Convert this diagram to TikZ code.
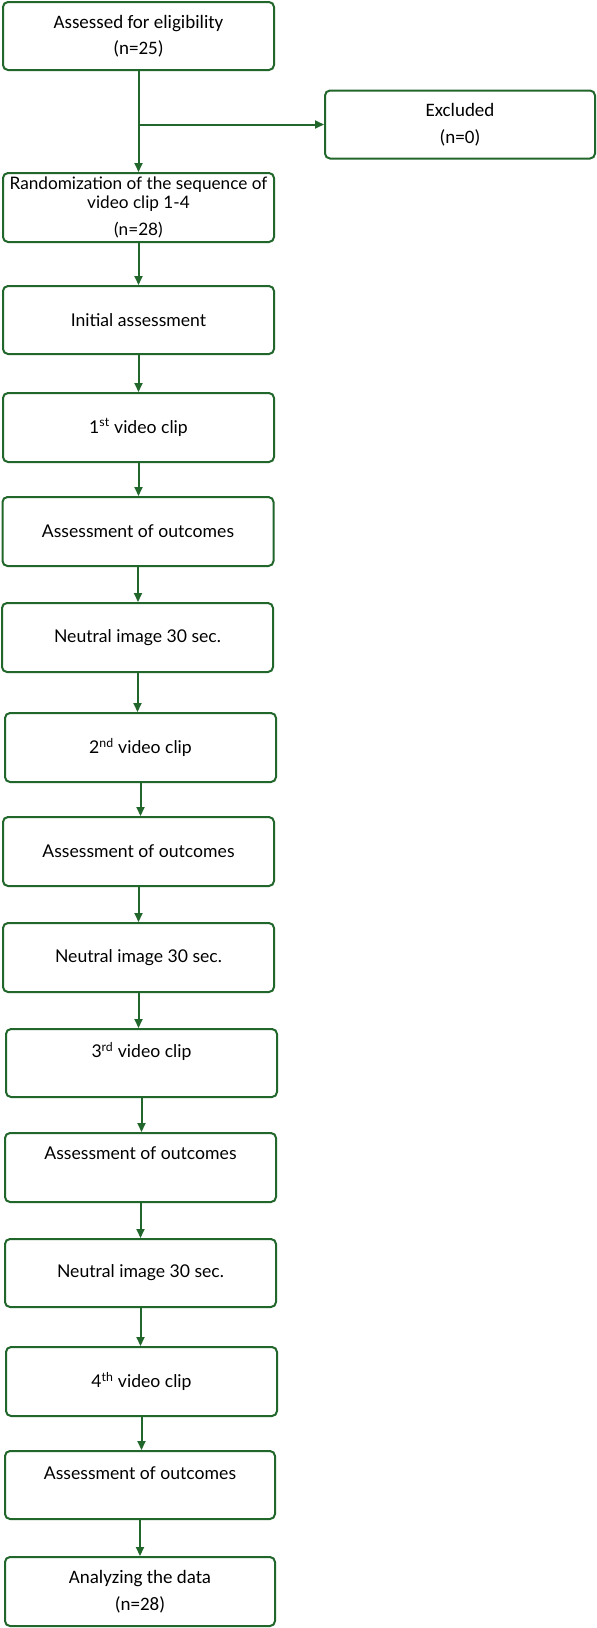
\documentclass[tikz,border=0pt]{standalone}
\usepackage{fontspec}
\setmainfont{Lato}
\newfontfamily\calibri{Carlito}
\usetikzlibrary{arrows.meta}
\definecolor{flowgreen}{RGB}{33,102,42}
\begin{document}
\begin{tikzpicture}[x=1pt,y=-1pt,
  box/.style={draw=flowgreen, line width=2pt, rounded corners=5pt,
    minimum width=271pt, minimum height=68pt, align=center, inner sep=0pt,
    font=\fontsize{17.6}{20}\selectfont},
  arr/.style={draw=flowgreen, line width=2pt, -{Triangle[length=9pt,width=8pt]}}]
\useasboundingbox (0,0) rectangle (597,1628);
\node[box, font=\calibri\fontsize{19}{26.5}\selectfont] (elig) at (138.5,36) {Assessed for eligibility\\(n=25)};
\node[box, font=\calibri\fontsize{19}{27}\selectfont, minimum width=270pt] (excl) at (460,124.5) {Excluded\\(n=0)};
\node[box, minimum height=69pt, font=\fontsize{17.2}{19}\selectfont] (rand) at (138.5,207.5)
  {Randomization of the sequence of\\video clip 1-4\\[8pt](n=28)};
\node[box] (init) at (138.5,320) {Initial assessment};
\node[box, minimum height=69pt] (clipone) at (138.5,427.5) {1\textsuperscript{st} video clip};
\node[box, minimum height=69pt] (outone) at (138,531.5) {Assessment of outcomes};
\node[box, minimum height=69pt] (neutone) at (137.5,637.5) {Neutral image 30 sec.};
\node[box, minimum height=69pt] (cliptwo) at (140.5,747.5) {2\textsuperscript{nd} video clip};
\node[box, minimum height=69pt] (outtwo) at (138.5,851.5) {Assessment of outcomes};
\node[box, minimum height=69pt] (neuttwo) at (138.5,957.5) {Neutral image 30 sec.};
% text sits high in these boxes
\node[box, font=\fontsize{17.6}{26}\selectfont] (clipthree) at (141.5,1063) {3\textsuperscript{rd} video clip\\~};
\node[box, minimum height=69pt, font=\fontsize{17.6}{28}\selectfont] (outthree) at (140.5,1167.5) {Assessment of outcomes\\~};
\node[box] (neutthree) at (140.5,1273) {Neutral image 30 sec.};
\node[box, minimum height=69pt] (clipfour) at (141.5,1381.5) {4\textsuperscript{th} video clip};
\node[box, minimum width=270pt, font=\fontsize{17.6}{24}\selectfont] (outfour) at (140,1485) {Assessment of outcomes\\~};
\node[box, minimum width=270pt, minimum height=69pt, font=\calibri\fontsize{19}{26.5}\selectfont] (analysis) at (140,1591.5)
  {Analyzing the data\\(n=28)};
\coordinate (split) at (elig.south |- excl.west);
\draw[arr] (elig.south) -- (rand.north);
\draw[arr] (split) -- (excl.west);
\draw[arr] (rand.south) -- (rand.south |- init.north);
\draw[arr] (init.south) -- (init.south |- clipone.north);
\draw[arr] (clipone.south) -- (clipone.south |- outone.north);
\draw[arr] (outone.south) -- (outone.south |- neutone.north);
\draw[arr] (neutone.south) -- (neutone.south |- cliptwo.north);
\draw[arr] (cliptwo.south) -- (cliptwo.south |- outtwo.north);
\draw[arr] (outtwo.south) -- (outtwo.south |- neuttwo.north);
\draw[arr] (neuttwo.south) -- (neuttwo.south |- clipthree.north);
\draw[arr] (clipthree.south) -- (clipthree.south |- outthree.north);
\draw[arr] (outthree.south) -- (outthree.south |- neutthree.north);
\draw[arr] (neutthree.south) -- (neutthree.south |- clipfour.north);
\draw[arr] (clipfour.south) -- (clipfour.south |- outfour.north);
\draw[arr] (outfour.south) -- (outfour.south |- analysis.north);
\end{tikzpicture}
\end{document}
